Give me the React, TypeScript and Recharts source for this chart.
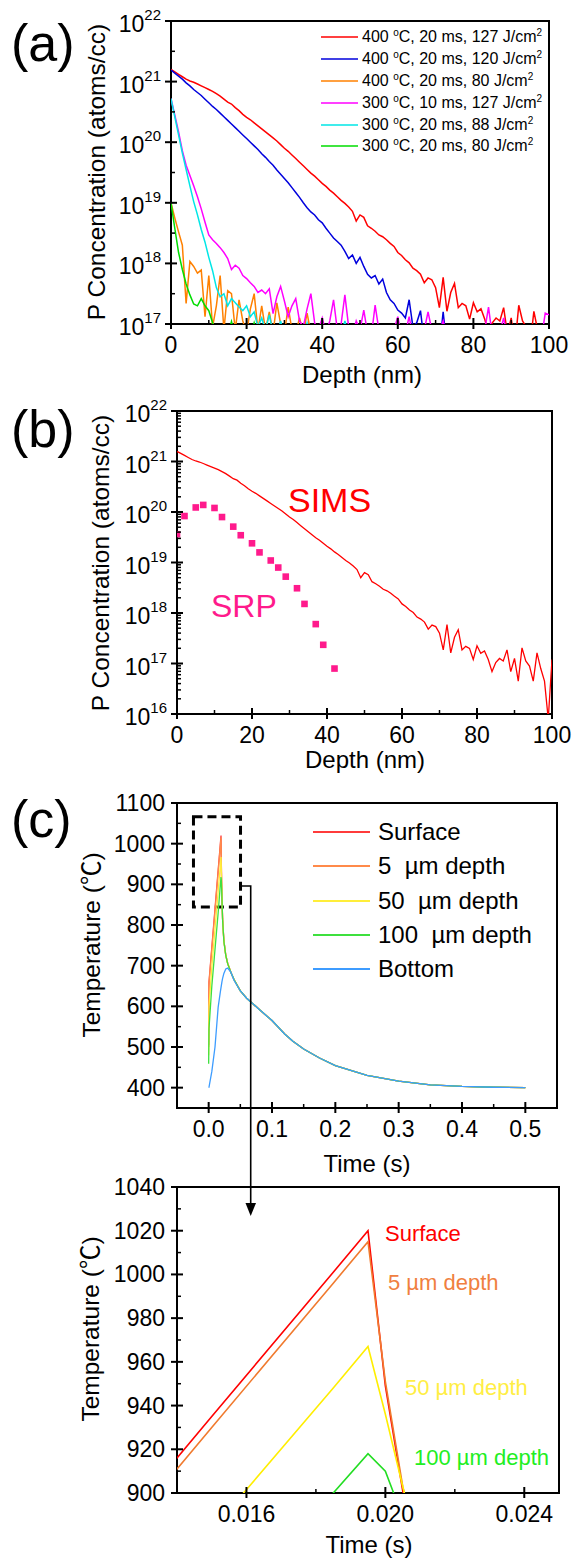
import React from "react";
import { LineChart, ComposedChart, Line, Scatter, XAxis, YAxis, ReferenceArea, Legend } from "recharts";

const FONT = "'Liberation Sans', Arial, 'Noto Sans CJK SC', sans-serif";

// (a)/(b) SIMS profiles: log10 of P concentration (atoms/cc), one value per nm from 0 nm
const depthNm = Array.from({ length: 101 }, (_, i) => i);

const log400_20_127 = [
  21.2, 21.16, 21.12, 21.08, 21.04, 21.01, 20.99, 20.96, 20.93, 20.9,
  20.87, 20.84, 20.8, 20.76, 20.71, 20.66, 20.63, 20.57, 20.52, 20.46,
  20.41, 20.37, 20.32, 20.27, 20.22, 20.17, 20.12, 20.07, 20.02, 19.96,
  19.9, 19.85, 19.79, 19.73, 19.67, 19.61, 19.55, 19.49, 19.44, 19.38,
  19.32, 19.27, 19.21, 19.16, 19.1, 19.04, 18.99, 18.93, 18.86, 18.7,
  18.8, 18.76, 18.62, 18.58, 18.53, 18.47, 18.44, 18.39, 18.33, 18.28,
  18.18, 18.13, 18.06, 18.01, 17.92, 17.88, 17.82, 17.68, 17.76, 17.73,
  17.6, 17.27, 17.77, 17.21, 17.52, 17.67, 17.27, 17.34, 17.3, 17.08,
  17.35, 17.2, 17.25, 17.08, 16.84, 17.02, 17.1, 17.05, 17.27, 16.84,
  17.1, 16.65, 17.31, 17.05, 16.95, 16.65, 17.21, 16.9, 16.65, 15.9,
  17.08,
];
const log400_20_120 = [
  21.19, 21.14, 21.09, 21.04, 20.98, 20.93, 20.87, 20.82, 20.77, 20.71,
  20.65, 20.59, 20.54, 20.48, 20.42, 20.36, 20.3, 20.24, 20.18, 20.12,
  20.06, 20.0, 19.94, 19.88, 19.81, 19.75, 19.68, 19.62, 19.54, 19.47,
  19.4, 19.33, 19.25, 19.17, 19.09, 19.0, 18.92, 18.85, 18.8, 18.72,
  18.67, 18.58, 18.5, 18.42, 18.36, 18.3, 18.2, 18.08, 18.14, 18.0,
  18.1, 17.95, 17.82, 17.76, 17.8, 17.66, 17.74, 17.52, 17.4, 17.34,
  17.23, 17.18, 17.1, 17.4, 16.95, 17.02, 17.22, 16.7, 16.6, 16.55,
  16.7, 16.6, 17.2, 16.6, 16.55,
];
const log400_20_80 = [
  19.0, 18.75, 18.52, 18.3, 17.34, 18.03, 17.95, 17.84, 17.89, 17.12,
  17.8, 16.95, 17.3, 17.8, 16.9, 17.55, 17.5, 16.9, 17.4, 17.05,
  16.85, 17.25, 17.5, 16.9, 17.3, 16.9, 17.2, 16.85, 17.35, 17.0,
  16.85, 17.28, 16.9, 16.85, 17.1, 16.85, 17.18, 16.85, 16.8, 16.85,
  16.8, 16.95, 16.8,
];
const log300_10_127 = [
  20.72, 20.45, 20.17, 19.86, 19.62, 19.45, 19.28, 19.1, 18.9, 18.68,
  18.47, 18.39, 18.33, 18.26, 18.18, 18.08, 17.9, 17.97, 17.92, 17.8,
  17.75, 17.68, 17.62, 17.52, 17.56, 17.5, 17.58, 17.17, 17.45, 17.62,
  17.38, 17.12, 17.3, 17.42, 17.05, 16.95, 17.25, 17.5, 17.02, 16.9,
  17.1, 16.85, 17.05, 17.4, 16.9, 17.0, 17.48, 16.95, 16.8, 17.05,
  16.9, 17.23, 16.85, 16.8, 17.31, 16.9, 16.8, 16.95, 16.8, 16.9,
  17.12, 16.8, 16.85, 17.12, 16.8, 16.75, 16.8, 16.9, 17.2, 16.9,
  16.8, 16.85, 17.05, 16.8, 16.75, 16.95, 16.8, 16.75, 16.8, 16.75,
  16.8, 16.75, 16.8, 16.9, 17.28, 16.8, 16.75, 16.85, 17.1, 16.8,
  16.75, 16.8, 16.75, 16.8, 16.75, 16.8, 16.75, 16.8, 16.75, 17.18,
  17.15,
];
const log300_20_88 = [
  20.72, 20.42, 20.12, 19.82, 19.55, 19.28, 19.02, 18.8, 18.56, 18.35,
  18.1, 17.88, 17.6, 17.45, 17.5, 17.3, 17.42, 17.35, 17.28, 17.22,
  17.3, 17.12, 17.2, 16.95, 17.1, 16.9, 17.15, 16.85, 16.8, 17.05,
  16.8, 16.8, 16.85, 16.8, 16.9, 16.8, 17.02, 16.8, 16.8, 16.85,
  16.8, 16.9, 16.8, 16.8, 16.85, 16.8, 17.05, 16.8,
];
const log300_20_80 = [
  19.0, 18.58, 18.18, 17.9, 17.66, 17.48, 17.33, 17.3, 17.42, 17.3,
  17.22, 17.02, 16.8, 16.7, 16.7, 16.8, 17.04, 16.8, 16.7, 16.7,
  16.75, 16.8, 17.02, 16.8, 16.7,
];

const keysA = ["r127", "r120", "r80", "m127", "c88", "g80"];
const colorsA = ["#ff0000", "#0000dd", "#ff8000", "#ff00ff", "#00e6e6", "#00dd00"];
const legendTempC = [400, 400, 400, 300, 300, 300];
const legendPulseMs = [20, 20, 20, 10, 20, 20];
const legendFluence = [127, 120, 80, 127, 88, 80];

// (b) spreading resistance profile
const srpDepth = [0, 2, 5, 7, 10, 12, 15, 17, 20, 22, 25, 27, 29, 32, 34, 37, 39, 42];
const srpLog = [19.56, 19.92, 20.09, 20.14, 20.08, 19.9, 19.71, 19.54, 19.38, 19.2, 19.04, 18.9, 18.72, 18.49, 18.18, 17.78, 17.37, 16.9];

// (c)/(d) simulated temperature (°C) vs time (s)
const timeS = [0, 0.0005, 0.005, 0.01, 0.015, 0.0185, 0.0195, 0.02, 0.0205, 0.021, 0.022, 0.024, 0.027, 0.03, 0.035, 0.04, 0.05, 0.06, 0.068, 0.08, 0.1, 0.12, 0.133, 0.15, 0.175, 0.2, 0.25, 0.3, 0.35, 0.4, 0.45, 0.5];
const tSurface = [505, 660, 745, 840, 935, 1001, 1020, 949, 901, 868, 815, 762, 726, 706, 684, 666, 638, 620, 609, 592, 565, 532, 514, 495, 473, 454, 430, 416, 407, 403, 401, 400];
const t5um = [500, 656, 741, 835, 930, 996, 1015, 951, 903, 870, 815, 762, 726, 706, 684, 666, 638, 620, 609, 592, 565, 532, 514, 495, 473, 454, 430, 416, 407, 403, 401, 400];
const t50um = [480, 600, 697, 790, 883, 948, 967, 936, 903, 872, 812, 760, 725, 705, 684, 666, 638, 620, 609, 592, 565, 532, 514, 495, 473, 454, 430, 416, 407, 403, 401, 400];
const t100um = [459, 545, 650, 740, 830, 900, 918, 910, 889, 862, 812, 760, 725, 705, 684, 666, 638, 620, 609, 592, 565, 532, 514, 495, 473, 454, 430, 416, 407, 403, 401, 400];
const tBottom = [400, 401, 440, 500, 598, 636, 646, 651, 656, 661, 669, 681, 692, 694, 684, 664, 638, 620, 609, 592, 565, 532, 514, 495, 473, 454, 430, 416, 407, 403, 401, 400];

const keysC = ["surface", "d5", "d50", "d100", "bottom"];
const colorsC = ["#ff3b3b", "#ff8a4a", "#ffee3a", "#3ee03e", "#3d9cff"];
const labelsC = ["Surface", "5  \u00b5m depth", "50  \u00b5m depth", "100  \u00b5m depth", "Bottom"];
const colorsD = ["#ff0000", "#f07a2e", "#ffee00", "#22dd22"];

// ticks
const aXMajor = [0, 20, 40, 60, 80, 100];
const aXMinor = [10, 30, 50, 70, 90];
const aYMajor = [1e17, 1e18, 1e19, 1e20, 1e21, 1e22];
const aYMinor = [3.162e17, 3.162e18, 3.162e19, 3.162e20, 3.162e21];
const bYMajor = [1e16, 1e17, 1e18, 1e19, 1e20, 1e21, 1e22];
const bYMinor: number[] = [];
bYMajor.slice(0, -1).forEach((d) => [2, 3, 4, 5, 6, 7, 8, 9].forEach((m) => bYMinor.push(d * m)));
const cXMajor = [0, 0.1, 0.2, 0.3, 0.4, 0.5];
const cXMinor = [0.05, 0.15, 0.25, 0.35, 0.45];
const cYMajor = [400, 500, 600, 700, 800, 900, 1000, 1100];
const cYMinor = [450, 550, 650, 750, 850, 950, 1050];
const dXMajor = [0.016, 0.02, 0.024];
const dXMinor = [0.018, 0.022];
const dYMajor = [900, 920, 940, 960, 980, 1000, 1020, 1040];
const dYMinor = [910, 930, 950, 970, 990, 1010, 1030];

const pow10 = (v?: number) => (v === undefined ? undefined : Math.pow(10, v));
const seriesA = [log400_20_127, log400_20_120, log400_20_80, log300_10_127, log300_20_88, log300_20_80];
const profileTable = depthNm.map((d, i) => {
  const row: Record<string, number | undefined> = { depth: d };
  seriesA.forEach((s, k) => (row[keysA[k]] = pow10(s[i])));
  return row;
});
const simsTable = depthNm.map((d, i) => ({ depth: d, v: pow10(log400_20_127[i]) }));
const srpTable = srpDepth.map((d, i) => ({ depth: d, v: pow10(srpLog[i]) }));
const seriesC = [tSurface, t5um, t50um, t100um, tBottom];
const timeTable = timeS.map((t, i) => {
  const row: Record<string, number> = { t };
  seriesC.forEach((s, k) => (row[keysC[k]] = s[i]));
  return row;
});

const near = (list: number[], v: number) => list.some((m) => Math.abs(m - v) <= Math.abs(m) * 1e-6);

function bottomTick(majors: number[], fmt: (v: number) => string) {
  return (p: any) => {
    const { x, y, payload } = p;
    const major = near(majors, payload.value);
    return (
      <g>
        <line x1={x} x2={x} y1={major ? y + 5 : y} y2={y - (major ? 6 : 4)} stroke="#000" strokeWidth={major ? 2 : 1.5} />
        {major && (
          <text x={x} y={y + 29} textAnchor="middle" fontFamily={FONT} fontSize={23} fill="#000">
            {fmt(payload.value)}
          </text>
        )}
      </g>
    );
  };
}

function leftTick(majors: number[], log: boolean) {
  return (p: any) => {
    const { x, y, payload } = p;
    const major = near(majors, payload.value);
    return (
      <g>
        <line x1={major ? x - 6 : x} x2={x + (major ? 6 : 4)} y1={y} y2={y} stroke="#000" strokeWidth={major ? 2 : 1.5} />
        {major && log && (
          <text x={x - 10} y={y + 11} textAnchor="end" fontFamily={FONT} fontSize={23} fill="#000">
            10<tspan dy={-12} fontSize={15}>{Math.round(Math.log10(payload.value))}</tspan>
          </text>
        )}
        {major && !log && (
          <text x={x - 12} y={y + 8} textAnchor="end" fontFamily={FONT} fontSize={23} fill="#000">
            {payload.value}
          </text>
        )}
      </g>
    );
  };
}

const axisCommon = { tickSize: 0, tickMargin: 0, tickLine: false, axisLine: false, interval: 0 as const, allowDataOverflow: true };

function LegendA() {
  const sup = { fontSize: 10, verticalAlign: "super", lineHeight: 0 } as const;
  return (
    <div style={{ fontFamily: FONT, fontSize: 16, color: "#000" }}>
      {keysA.map((k, i) => (
        <div key={k} style={{ display: "flex", alignItems: "center", height: 21.8, whiteSpace: "nowrap" }}>
          <svg width={37} height={4} style={{ marginRight: 4 }}>
            <line x1={0} x2={37} y1={2} y2={2} stroke={colorsA[i]} strokeWidth={1.6} />
          </svg>
          <span>
            {legendTempC[i]} <span style={sup}>o</span>C, {legendPulseMs[i]} ms, {legendFluence[i]} J/cm<span style={sup}>2</span>
          </span>
        </div>
      ))}
    </div>
  );
}

function LegendC() {
  return (
    <div style={{ fontFamily: FONT, fontSize: 24, color: "#000" }}>
      {keysC.map((k, i) => (
        <div key={k} style={{ display: "flex", alignItems: "center", height: 34.3, whiteSpace: "pre" }}>
          <svg width={57} height={4} style={{ marginRight: 8 }}>
            <line x1={0} x2={57} y1={2} y2={2} stroke={colorsC[i]} strokeWidth={1.8} />
          </svg>
          <span>{labelsC[i]}</span>
        </div>
      ))}
    </div>
  );
}

function PanelA() {
  return (
    <LineChart width={573} height={400} data={profileTable} margin={{ top: 21, right: 24, bottom: 0, left: 0 }}>
      <XAxis dataKey="depth" type="number" domain={[0, 100]} ticks={[...aXMajor, ...aXMinor]} height={76} tick={bottomTick(aXMajor, (v) => String(v))} {...axisCommon} />
      <YAxis type="number" scale="log" domain={[1e17, 1e22]} ticks={[...aYMajor, ...aYMinor]} width={171} tick={leftTick(aYMajor, true)} {...axisCommon} />
      {keysA.map((k, i) => (
        <Line key={k} dataKey={k} stroke={colorsA[i]} strokeWidth={1.5} dot={false} isAnimationActive={false} />
      ))}
      <ReferenceArea x1={0} x2={100} y1={1e17} y2={1e22} fill="none" stroke="#000" strokeWidth={2} ifOverflow="visible" />
      <Legend layout="vertical" align="center" verticalAlign="middle" content={LegendA} wrapperStyle={{ top: 26.5, left: 321, width: 250, height: 132 }} />
    </LineChart>
  );
}

function PanelB() {
  return (
    <ComposedChart width={573} height={400} margin={{ top: 31, right: 21, bottom: 0, left: 0 }}>
      <XAxis dataKey="depth" type="number" domain={[0, 100]} ticks={[...aXMajor, ...aXMinor]} height={66} tick={bottomTick(aXMajor, (v) => String(v))} {...axisCommon} />
      <YAxis dataKey="v" type="number" scale="log" domain={[1e16, 1e22]} ticks={[...bYMajor, ...bYMinor]} width={177} tick={leftTick(bYMajor, true)} {...axisCommon} />
      <Line data={simsTable} dataKey="v" stroke="#ff0000" strokeWidth={1.3} dot={false} isAnimationActive={false} />
      <Scatter
        data={srpTable}
        dataKey="v"
        isAnimationActive={false}
        shape={(p: any) => <rect x={p.cx - 3.3} y={p.cy - 3.3} width={6.6} height={6.6} fill="#ff1a8c" />}
      />
      <ReferenceArea x1={0} x2={100} y1={1e16} y2={1e22} fill="none" stroke="#000" strokeWidth={2} ifOverflow="visible" />
    </ComposedChart>
  );
}

function PanelC() {
  return (
    <LineChart width={573} height={400} data={timeTable} margin={{ top: 23, right: 16, bottom: 0, left: 0 }}>
      <XAxis dataKey="t" type="number" domain={[-0.05, 0.55]} ticks={[...cXMajor, ...cXMinor]} height={72} tick={bottomTick(cXMajor, (v) => v.toFixed(1))} {...axisCommon} />
      <YAxis type="number" domain={[350, 1100]} ticks={[...cYMajor, ...cYMinor]} width={177} tick={leftTick(cYMajor, false)} {...axisCommon} />
      {keysC.map((k, i) => (
        <Line key={k} dataKey={k} stroke={colorsC[i]} strokeWidth={1.3} dot={false} isAnimationActive={false} />
      ))}
      <ReferenceArea x1={-0.05} x2={0.55} y1={350} y2={1100} fill="none" stroke="#000" strokeWidth={2} ifOverflow="visible" />
      <ReferenceArea x1={-0.024} x2={0.0503} y1={844} y2={1066} fill="none" stroke="#000" strokeWidth={3} strokeDasharray="9 5" ifOverflow="visible" />
      <Legend layout="vertical" align="center" verticalAlign="middle" content={LegendC} wrapperStyle={{ top: 35, left: 313, width: 250, height: 175 }} />
    </LineChart>
  );
}

function PanelD() {
  return (
    <LineChart width={573} height={399} data={timeTable} margin={{ top: 27, right: 14, bottom: 0, left: 0 }}>
      <XAxis dataKey="t" type="number" domain={[0.014, 0.025]} ticks={[...dXMajor, ...dXMinor]} height={66} tick={bottomTick(dXMajor, (v) => v.toFixed(3))} {...axisCommon} />
      <YAxis type="number" domain={[900, 1040]} ticks={[...dYMajor, ...dYMinor]} width={177} tick={leftTick(dYMajor, false)} {...axisCommon} />
      {keysC.slice(0, 4).map((k, i) => (
        <Line key={k} dataKey={k} stroke={colorsD[i]} strokeWidth={1.6} dot={false} isAnimationActive={false} />
      ))}
      <ReferenceArea x1={0.014} x2={0.025} y1={900} y2={1040} fill="none" stroke="#000" strokeWidth={2} ifOverflow="visible" />
    </LineChart>
  );
}

function Overlay() {
  const yTitle = (cx: number, cy: number, s: string) => (
    <text transform={`translate(${cx},${cy}) rotate(-90)`} textAnchor="middle" dominantBaseline="central" fontSize={24.5}>
      {s}
    </text>
  );
  return (
    <svg width={573} height={1559} style={{ position: "absolute", left: 0, top: 0, pointerEvents: "none" }}>
      <g fontFamily={FONT} fill="#000">
        <text x={11} y={61} fontSize={52}>(a)</text>
        <text x={11} y={447} fontSize={52}>(b)</text>
        <text x={11} y={837} fontSize={52}>(c)</text>
        {yTitle(96, 172, "P Concentration (atoms/cc)")}
        {yTitle(100, 563, "P Concentration (atoms/cc)")}
        {yTitle(91, 945, "Temperature (\u2103)")}
        {yTitle(90, 1329, "Temperature (\u2103)")}
        <text x={362} y={383} fontSize={24} textAnchor="middle">Depth (nm)</text>
        <text x={365} y={768} fontSize={24} textAnchor="middle">Depth (nm)</text>
        <text x={367} y={1172} fontSize={24} textAnchor="middle">Time (s)</text>
        <text x={369} y={1553} fontSize={24} textAnchor="middle">Time (s)</text>
        <text x={288} y={512} fontSize={34} fill="#ff0000">SIMS</text>
        <text x={211} y={617} fontSize={32} fill="#ff1a8c">SRP</text>
        <text x={385} y={1241} fontSize={22} fill={colorsD[0]}>Surface</text>
        <text x={388} y={1290} fontSize={22} fill="#f08040">5 {"\u00b5"}m depth</text>
        <text x={405} y={1395} fontSize={22} fill="#ffee44">50 {"\u00b5"}m depth</text>
        <text x={414} y={1465} fontSize={22} fill="#22ee22">100 {"\u00b5"}m depth</text>
      </g>
      <polyline points="240,886 250.7,886 250.7,1206" fill="none" stroke="#000" strokeWidth={1.6} />
      <polygon points="245.5,1203 256,1203 250.7,1216" fill="#000" />
    </svg>
  );
}

export default function App() {
  return (
    <div style={{ position: "absolute", left: 0, top: 0, width: 573, height: 1559, background: "#fff", overflow: "hidden" }}>
      <div style={{ position: "absolute", left: 0, top: 0 }}>
        <PanelA />
      </div>
      <div style={{ position: "absolute", left: 0, top: 380 }}>
        <PanelB />
      </div>
      <div style={{ position: "absolute", left: 0, top: 780 }}>
        <PanelC />
      </div>
      <div style={{ position: "absolute", left: 0, top: 1160 }}>
        <PanelD />
      </div>
      <Overlay />
    </div>
  );
}
